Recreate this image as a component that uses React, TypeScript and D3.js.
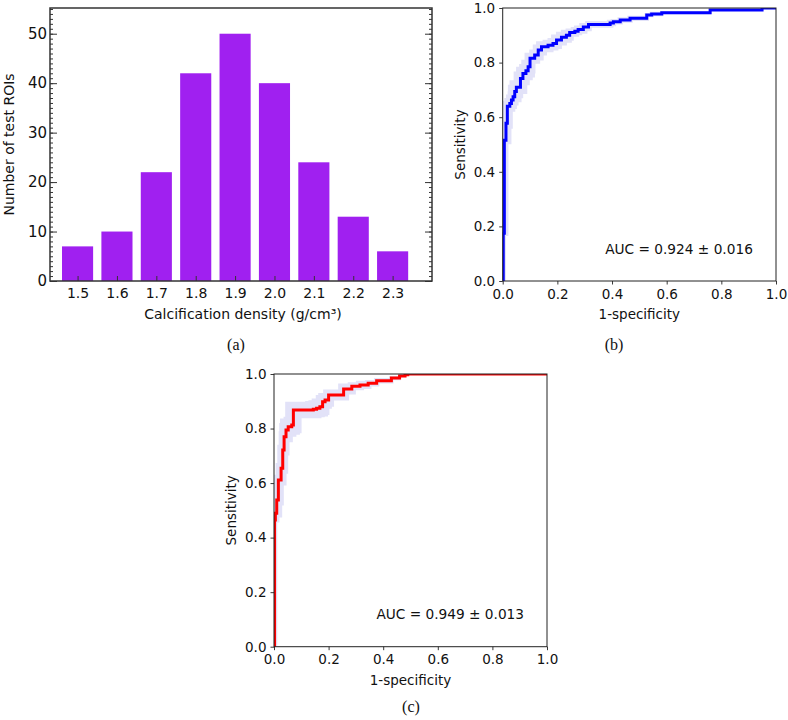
import * as d3 from "d3";
import { useEffect, useRef } from "react";

// (a) histogram of calcification density
const DENSITY_BINS = [1.5, 1.6, 1.7, 1.8, 1.9, 2.0, 2.1, 2.2, 2.3];
const ROI_COUNTS = [7, 10, 22, 42, 50, 40, 24, 13, 6];
const COUNT_TICKS = [0, 10, 20, 30, 40, 50];

// (b) ROC curve, blue
const B_FPR = [0, 0.002, 0.006, 0.012, 0.017, 0.026, 0.032, 0.038, 0.044, 0.05, 0.065, 0.074, 0.085, 0.093, 0.1, 0.117, 0.13, 0.142, 0.166, 0.184, 0.197, 0.215, 0.233, 0.245, 0.264, 0.276, 0.295, 0.314, 0.393, 0.405, 0.43, 0.466, 0.527, 0.545, 0.582, 0.759, 0.949, 1.0];
const B_TPR = [0, 0.175, 0.516, 0.578, 0.64, 0.65, 0.663, 0.675, 0.694, 0.71, 0.742, 0.76, 0.77, 0.785, 0.816, 0.828, 0.846, 0.858, 0.864, 0.87, 0.883, 0.893, 0.9, 0.91, 0.915, 0.921, 0.93, 0.94, 0.945, 0.95, 0.956, 0.962, 0.974, 0.978, 0.983, 0.993, 1.0, 1.0];
const B_BAND = [0, 0.01, 0.015, 0.02, 0.02, 0.02, 0.02, 0.02, 0.025, 0.025, 0.025, 0.025, 0.025, 0.025, 0.02, 0.02, 0.02, 0.02, 0.02, 0.02, 0.02, 0.02, 0.02, 0.015, 0.015, 0.015, 0.015, 0.012, 0.012, 0.01, 0.01, 0.01, 0.008, 0.008, 0.006, 0.004, 0, 0];
const B_AUC = "AUC = 0.924 ± 0.016";

// (c) ROC curve, red
const C_FPR = [0, 0.002, 0.005, 0.01, 0.016, 0.026, 0.032, 0.037, 0.044, 0.052, 0.065, 0.071, 0.144, 0.156, 0.168, 0.178, 0.187, 0.2, 0.255, 0.285, 0.315, 0.345, 0.376, 0.43, 0.46, 0.48, 0.49, 1.0];
const C_TPR = [0, 0.465, 0.489, 0.538, 0.611, 0.654, 0.721, 0.77, 0.795, 0.807, 0.813, 0.868, 0.871, 0.874, 0.88, 0.898, 0.905, 0.923, 0.945, 0.955, 0.96, 0.966, 0.975, 0.985, 0.993, 0.997, 1.0, 1.0];
const C_BAND = [0, 0.01, 0.015, 0.02, 0.02, 0.02, 0.02, 0.02, 0.025, 0.03, 0.03, 0.03, 0.03, 0.03, 0.03, 0.025, 0.025, 0.02, 0.02, 0.015, 0.015, 0.012, 0.01, 0.008, 0.005, 0.003, 0, 0];
const C_AUC = "AUC = 0.949 ± 0.013";

const ROC_TICKS = [0, 0.2, 0.4, 0.6, 0.8, 1.0];

const IDL_FONT = "'DejaVu Sans', sans-serif";
const MPL_FONT = "'DejaVu Sans', sans-serif";
const SERIF_FONT = "'Liberation Serif', 'Times New Roman', serif";

type Rect = { left: number; top: number; right: number; bottom: number };
type Svg = d3.Selection<SVGSVGElement, unknown, null, undefined>;

const drawHistogram = (svg: Svg) => {
  const box: Rect = { left: 50, top: 8, right: 432, bottom: 281 };
  const x = d3.scaleLinear().domain([1.43, 2.4]).range([box.left, box.right]);
  const y = d3.scaleLinear().domain([0, 55.2]).range([box.bottom, box.top]);
  const barWidth = x(1.5 + 0.079) - x(1.5);

  const g = svg.append("g");

  g.selectAll("rect.bar")
    .data(DENSITY_BINS)
    .join("rect")
    .attr("class", "bar")
    .attr("x", (d) => x(d) - barWidth / 2)
    .attr("y", (_, i) => y(ROI_COUNTS[i]))
    .attr("width", barWidth)
    .attr("height", (_, i) => box.bottom - y(ROI_COUNTS[i]))
    .attr("fill", "#a020f0");

  const minor = d3.range(0, 56, 1);

  // left axis, ticks point inward
  const left = g.append("g").attr("transform", `translate(${box.left},0)`);
  left.call(d3.axisLeft(y).tickValues(minor).tickSize(-3).tickFormat(() => ""));
  left.select(".domain").remove();
  const leftMajor = g.append("g").attr("transform", `translate(${box.left},0)`);
  leftMajor.call(d3.axisLeft(y).tickValues(COUNT_TICKS).tickSize(-7).tickPadding(3).tickFormat(d3.format("d")));
  leftMajor.select(".domain").remove();

  // right axis mirrors the left one
  const right = g.append("g").attr("transform", `translate(${box.right},0)`);
  right.call(d3.axisRight(y).tickValues(minor).tickSize(-3).tickFormat(() => ""));
  right.select(".domain").remove();
  const rightMajor = g.append("g").attr("transform", `translate(${box.right},0)`);
  rightMajor.call(d3.axisRight(y).tickValues(COUNT_TICKS).tickSize(-7).tickFormat(() => ""));
  rightMajor.select(".domain").remove();

  const bottom = g.append("g").attr("transform", `translate(0,${box.bottom})`);
  bottom.call(d3.axisBottom(x).tickValues(DENSITY_BINS).tickSize(-5).tickPadding(7).tickFormat(d3.format(".1f")));
  bottom.select(".domain").remove();

  g.selectAll(".tick line").attr("stroke", "#333").attr("stroke-width", 1);
  g.selectAll(".tick text").attr("font-family", IDL_FONT).attr("font-size", 14).attr("fill", "#111");
  leftMajor.selectAll(".tick text").attr("font-size", 15);

  g.append("rect")
    .attr("x", box.left)
    .attr("y", box.top)
    .attr("width", box.right - box.left)
    .attr("height", box.bottom - box.top)
    .attr("fill", "none")
    .attr("stroke", "#333")
    .attr("stroke-width", 1.5);

  g.append("text")
    .attr("transform", `translate(14,${(box.top + box.bottom) / 2}) rotate(-90)`)
    .attr("text-anchor", "middle")
    .attr("font-family", IDL_FONT)
    .attr("font-size", 14)
    .attr("fill", "#111")
    .text("Number of test ROIs");

  g.append("text")
    .attr("x", 243)
    .attr("y", 319)
    .attr("text-anchor", "middle")
    .attr("font-family", IDL_FONT)
    .attr("font-size", 14)
    .attr("fill", "#111")
    .text("Calcification density (g/cm³)");
};

const drawRoc = (
  svg: Svg,
  id: string,
  box: Rect,
  fpr: number[],
  tpr: number[],
  band: number[],
  color: string,
  auc: string
) => {
  const x = d3.scaleLinear().domain([0, 1]).range([box.left, box.right]);
  const y = d3.scaleLinear().domain([0, 1]).range([box.bottom, box.top]);
  const idx = d3.range(fpr.length);

  const g = svg.append("g");

  g.append("clipPath")
    .attr("id", id)
    .append("rect")
    .attr("x", box.left)
    .attr("y", box.top)
    .attr("width", box.right - box.left)
    .attr("height", box.bottom - box.top);

  const plot = g.append("g").attr("clip-path", `url(#${id})`);

  const area = d3
    .area<number>()
    .x0((i) => x(fpr[i] + band[i]))
    .y0((i) => y(tpr[i] - band[i]))
    .x1((i) => x(fpr[i] - band[i]))
    .y1((i) => y(tpr[i] + band[i]))
    .curve(d3.curveStepAfter);

  plot.append("path").attr("d", area(idx)).attr("fill", "#e2e2f8").attr("stroke", "none");

  const line = d3
    .line<number>()
    .x((i) => x(fpr[i]))
    .y((i) => y(tpr[i]))
    .curve(d3.curveStepAfter);

  plot
    .append("path")
    .attr("d", line(idx))
    .attr("fill", "none")
    .attr("stroke", color)
    .attr("stroke-width", 3);

  const bottom = g.append("g").attr("transform", `translate(0,${box.bottom})`);
  bottom.call(d3.axisBottom(x).tickValues(ROC_TICKS).tickSize(3.5).tickPadding(4.5).tickFormat(d3.format(".1f")));
  bottom.select(".domain").remove();

  const left = g.append("g").attr("transform", `translate(${box.left},0)`);
  left.call(d3.axisLeft(y).tickValues(ROC_TICKS).tickSize(3.5).tickPadding(4).tickFormat(d3.format(".1f")));
  left.select(".domain").remove();

  g.selectAll(".tick line").attr("stroke", "#222").attr("stroke-width", 0.9);
  g.selectAll(".tick text").attr("font-family", MPL_FONT).attr("font-size", 13.5).attr("fill", "#111");

  g.append("rect")
    .attr("x", box.left)
    .attr("y", box.top)
    .attr("width", box.right - box.left)
    .attr("height", box.bottom - box.top)
    .attr("fill", "none")
    .attr("stroke", "#222")
    .attr("stroke-width", 1);

  g.append("text")
    .attr("x", x(0.375))
    .attr("y", y(0.1))
    .attr("font-family", MPL_FONT)
    .attr("font-size", 13.7)
    .attr("fill", "#111")
    .text(auc);

  g.append("text")
    .attr("transform", `translate(${box.left - 38},${(box.top + box.bottom) / 2}) rotate(-90)`)
    .attr("text-anchor", "middle")
    .attr("font-family", MPL_FONT)
    .attr("font-size", 13.5)
    .attr("fill", "#111")
    .text("Sensitivity");

  g.append("text")
    .attr("x", (box.left + box.right) / 2)
    .attr("y", box.bottom + 38)
    .attr("text-anchor", "middle")
    .attr("font-family", MPL_FONT)
    .attr("font-size", 13.5)
    .attr("fill", "#111")
    .text("1-specificity");
};

const caption = (svg: Svg, cx: number, by: number, label: string) => {
  svg
    .append("text")
    .attr("x", cx)
    .attr("y", by)
    .attr("text-anchor", "middle")
    .attr("font-family", SERIF_FONT)
    .attr("font-size", 16)
    .attr("fill", "#111")
    .text(label);
};

const App = () => {
  const svgRef = useRef<SVGSVGElement | null>(null);

  useEffect(() => {
    if (!svgRef.current) return;
    const svg = d3.select(svgRef.current);
    svg.selectAll("*").remove();

    drawHistogram(svg);
    drawRoc(svg, "clip-b", { left: 502.7, top: 8, right: 776, bottom: 281 }, B_FPR, B_TPR, B_BAND, "#0000ff", B_AUC);
    drawRoc(svg, "clip-c", { left: 274, top: 374, right: 547, bottom: 646.7 }, C_FPR, C_TPR, C_BAND, "#ff0000", C_AUC);

    caption(svg, 236, 350, "(a)");
    caption(svg, 614, 350, "(b)");
    caption(svg, 411, 712, "(c)");
  }, []);

  return (
    <svg
      ref={svgRef}
      width={788}
      height={720}
      style={{ position: "absolute", left: 0, top: 0, background: "white" }}
    />
  );
};

export default App;
